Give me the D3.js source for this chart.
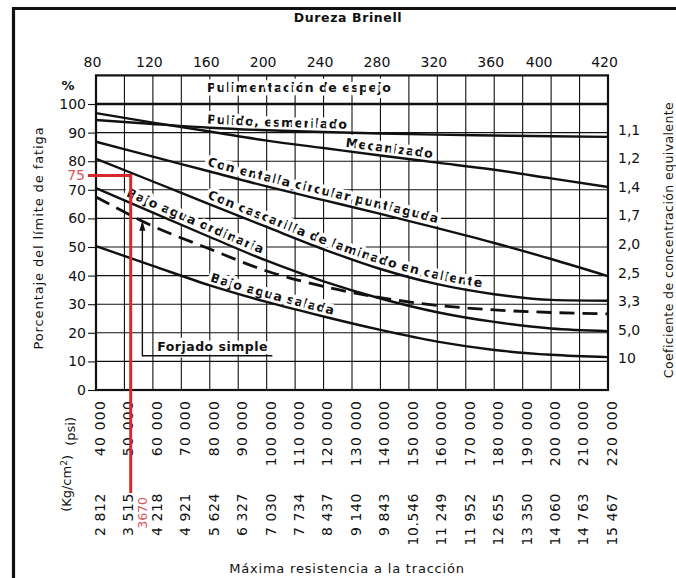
<!DOCTYPE html>
<html>
<head>
<meta charset="utf-8">
<script src="https://cdn.jsdelivr.net/npm/d3@7"></script>
<style>
  html, body { margin: 0; padding: 0; background: #fff; }
  svg { display: block; font-family: "DejaVu Sans", sans-serif; }
</style>
</head>
<body>
<svg id="chart" width="676" height="578"></svg>
<script>
// ---- Data -------------------------------------------------------------
// Tensile strength columns (thousand psi) with their printed labels
const psiTicks = d3.range(40, 221, 10);
const psiLabels = ["40 000", "50 000", "60 000", "70 000", "80 000", "90 000", "100 000",
  "110 000", "120 000", "130 000", "140 000", "150 000", "160 000", "170 000", "180 000",
  "190 000", "200 000", "210 000", "220 000"];
const kgLabels = ["2 812", "3 515", "4 218", "4 921", "5 624", "6 327", "7 030", "7 734",
  "8 437", "9 140", "9 843", "10.546", "11 249", "11 952", "12 655", "13 350", "14 060",
  "14 763", "15 467"];

// Brinell hardness scale and the tensile strength (thousand psi) it lines up with
const brinellTicks = [80, 120, 160, 200, 240, 280, 320, 360, 400, 420];
const brinellPsi = [40, 60, 80, 100, 120, 140, 160, 180, 197, 220];

// Fatigue-limit percentage and equivalent concentration factor
const pctTicks = [0, 10, 20, 30, 40, 50, 60, 70, 80, 90, 100];
const kfTicks = [90, 80, 70, 60, 50, 40, 30, 20, 10];
const kfLabels = ["1,1", "1,2", "1,4", "1,7", "2,0", "2,5", "3,3", "5,0", "10"];

// Curves, sampled every 20 000 psi (percent of fatigue limit)
const samplePsi = [40, 60, 80, 100, 120, 140, 160, 180, 200, 220];
const espejo        = [100, 100, 100, 100, 100, 100, 100, 100, 100, 100];
const pulido        = [94.4, 93.0, 91.7, 90.8, 90.2, 89.7, 89.3, 89.0, 88.7, 88.5];
const mecanizado    = [96.8, 93.5, 90.4, 87.2, 84.6, 82.0, 79.5, 77.0, 74.0, 71.0];
const entalla       = [86.8, 81.6, 76.4, 71.2, 66.4, 61.6, 56.6, 51.4, 45.8, 39.8];
const cascarilla    = [80.8, 72.9, 64.9, 57.0, 49.2, 42.3, 37.0, 33.5, 31.5, 31.2];
const aguaOrdinaria = [70.6, 62.0, 53.5, 45.2, 38.0, 32.0, 27.2, 23.8, 21.5, 20.6];
const forjado       = [67.5, 57.3, 49.3, 41.6, 36.2, 32.3, 29.6, 28.0, 27.1, 26.6];
const aguaSalada    = [50.3, 43.4, 36.6, 30.8, 25.7, 21.0, 16.9, 14.0, 12.3, 11.5];

// Worked example: 75 % read at 3670 kg/cm²
const examplePct = 75;
const exampleKg = 3670;
const kgToKpsi = 14.2233 / 1000;

// ---- Scales -----------------------------------------------------------
const svg = d3.select("#chart");
const x = d3.scaleLinear().domain([40, 220]).range([96, 608]);
const y = d3.scaleLinear().domain([0, 110]).range([390, 75.4]);
const xBrinell = d3.scaleLinear().domain(brinellTicks).range(brinellPsi.map(p => x(p)));

const ink = "#111";
const red = "#d8282e";

// ---- Outer frame ------------------------------------------------------
svg.append("line").attr("x1", 12).attr("x2", 676).attr("y1", 8.5).attr("y2", 8.5)
  .attr("stroke", ink).attr("stroke-width", 3.2);
svg.append("line").attr("x1", 13.5).attr("x2", 13.5).attr("y1", 7).attr("y2", 578)
  .attr("stroke", ink).attr("stroke-width", 3.2);

// ---- Grid -------------------------------------------------------------
const grid = svg.append("g").attr("stroke", ink).attr("stroke-width", 1.1);
grid.selectAll("line.v").data(psiTicks).join("line").attr("class", "v")
  .attr("x1", d => x(d)).attr("x2", d => x(d))
  .attr("y1", y(110)).attr("y2", y(0));
grid.selectAll("line.h").data(pctTicks.filter(d => d > 0)).join("line").attr("class", "h")
  .attr("x1", x(40)).attr("x2", x(220))
  .attr("y1", d => y(d)).attr("y2", d => y(d));

// ---- Axes -------------------------------------------------------------
const axisL = svg.append("g").attr("transform", `translate(${x(40)},0)`)
  .call(d3.axisLeft(y).tickValues(pctTicks).tickSize(8).tickPadding(2));
axisL.select(".domain").remove();
axisL.selectAll("line").attr("stroke", ink).attr("stroke-width", 1.1);
axisL.selectAll("text").attr("font-size", 14).attr("fill", ink)
  .attr("font-family", "DejaVu Sans");

svg.append("text").attr("x", 68).attr("y", y(106.5)).attr("dy", "0.35em")
  .attr("text-anchor", "middle").attr("font-size", 13).attr("font-weight", "bold")
  .attr("fill", ink).text("%");

const axisT = svg.append("g").attr("transform", `translate(0,${y(110)})`)
  .call(d3.axisTop(xBrinell).tickValues(brinellTicks).tickSize(0).tickPadding(8));
axisT.select(".domain").remove();
axisT.selectAll("text").attr("font-size", 14).attr("fill", ink).attr("dx", -4)
  .attr("font-family", "DejaVu Sans");

const axisR = svg.append("g").attr("transform", `translate(${x(220)},0)`)
  .call(d3.axisRight(y).tickValues(kfTicks).tickSize(0).tickPadding(10)
    .tickFormat((d, i) => kfLabels[i]));
axisR.select(".domain").remove();
axisR.selectAll("text").attr("font-size", 14).attr("fill", ink).attr("dy", "0.1em")
  .attr("font-family", "DejaVu Sans");

// Bottom: psi and kg/cm² rows, written upward
const axisB = svg.append("g").attr("font-size", 14).attr("fill", ink)
  .attr("letter-spacing", 1.2).attr("text-anchor", "end");
axisB.selectAll("text.psi").data(psiTicks).join("text").attr("class", "psi")
  .attr("transform", d => `translate(${x(d) + 4},400) rotate(-90)`)
  .attr("dy", "0.35em").text((d, i) => psiLabels[i]);
axisB.selectAll("text.kg").data(psiTicks).join("text").attr("class", "kg")
  .attr("transform", d => `translate(${x(d) + 4},493) rotate(-90)`)
  .attr("dy", "0.35em").attr("letter-spacing", 0.6).text((d, i) => kgLabels[i]);

svg.append("text").attr("transform", "translate(70,417) rotate(-90)")
  .attr("dy", "0.35em").attr("text-anchor", "end").attr("font-size", 13)
  .attr("fill", ink).text("(psi)");
const kgUnit = svg.append("text").attr("transform", "translate(66,455) rotate(-90)")
  .attr("dy", "0.35em").attr("text-anchor", "end").attr("font-size", 13).attr("fill", ink);
kgUnit.append("tspan").text("(Kg/cm");
kgUnit.append("tspan").attr("dy", "-0.45em").attr("font-size", 9).text("2");
kgUnit.append("tspan").attr("dy", "0.45em").text(")");

// Titles
svg.append("text").attr("x", 348).attr("y", 22).attr("text-anchor", "middle")
  .attr("font-size", 12.5).attr("font-weight", "bold").attr("letter-spacing", 0.6)
  .attr("fill", ink).text("Dureza Brinell");
svg.append("text").attr("x", 347).attr("y", 573).attr("text-anchor", "middle")
  .attr("font-size", 13).attr("letter-spacing", 0.8).attr("fill", ink)
  .text("Máxima resistencia a la tracción");
svg.append("text").attr("transform", "translate(38.5,238) rotate(-90)")
  .attr("dy", "0.35em").attr("text-anchor", "middle").attr("font-size", 13)
  .attr("letter-spacing", 0.9).attr("fill", ink).text("Porcentaje del límite de fatiga");
svg.append("text").attr("transform", "translate(669,240) rotate(-90)")
  .attr("dy", "0.35em").attr("text-anchor", "middle").attr("font-size", 12.5)
  .attr("letter-spacing", 0.4).attr("fill", ink).text("Coeficiente de concentración equivalente");

// ---- Curve labels (each word follows its curve) -----------------------
const curveOf = off => d3.line()
  .x((d, i) => x(samplePsi[i]))
  .y(d => y(d) - off)
  .curve(d3.curveMonotoneX);

const labels = [
  { id: "lab-espejo", text: "Pulimentación de espejo", values: espejo, startPsi: 79, off: 12 },
  { id: "lab-pulido", text: "Pulido, esmerilado", values: pulido, startPsi: 79, off: 4 },
  { id: "lab-mec", text: "Mecanizado", values: mecanizado, startPsi: 127.6, off: 4 },
  { id: "lab-entalla", text: "Con entalla circular puntiaguda", values: entalla, startPsi: 79, off: 5 },
  { id: "lab-casc", text: "Con cascarilla de laminado en caliente", values: cascarilla, startPsi: 79, off: 5 },
  { id: "lab-ord", text: "Bajo agua ordinaria", values: aguaOrdinaria, startPsi: 50.5, off: 5 },
  { id: "lab-sal", text: "Bajo agua salada", values: aguaSalada, startPsi: 80, off: 4 }
];

const defs = svg.append("defs");
const labelLayer = svg.append("g").attr("font-size", 12.5).attr("font-weight", "bold")
  .attr("fill", ink).attr("letter-spacing", 0.5)
  .attr("stroke", "#fff").attr("stroke-width", 7).attr("stroke-linejoin", "round")
  .style("paint-order", "stroke");

function lengthAtX(node, targetX) {
  let lo = 0, hi = node.getTotalLength();
  for (let k = 0; k < 40; k++) {
    const mid = (lo + hi) / 2;
    if (node.getPointAtLength(mid).x < targetX) lo = mid; else hi = mid;
  }
  return lo;
}

// advance width of a string in the label style
const ruler = labelLayer.append("text").attr("stroke", "none").attr("opacity", 0);
const advance = s => { ruler.text(s); return ruler.node().getComputedTextLength(); };

labels.forEach(l => {
  const p = defs.append("path").attr("id", l.id).attr("d", curveOf(l.off)(l.values));
  const start = lengthAtX(p.node(), x(l.startPsi));
  const words = l.text.split(" ");
  words.forEach((w, i) => {
    const before = i === 0 ? 0
      : advance(words.slice(0, i).join(" ") + " " + w) - advance(w);
    labelLayer.append("text").append("textPath")
      .attr("href", "#" + l.id).attr("startOffset", start + before).text(w);
  });
});
ruler.remove();

// "Forjado simple" with its leader to the dashed curve
const leaderPsi = 56.3, leaderBasePct = 12, leaderEndPsi = 102;
const forjadoAt = d3.scaleLinear().domain(samplePsi).range(forjado);
labelLayer.append("text").attr("x", x(61.5)).attr("y", y(13.6)).text("Forjado simple");

// ---- Curves -----------------------------------------------------------
const series = [
  { values: espejo, w: 2.6 },
  { values: pulido, w: 2.4 },
  { values: mecanizado, w: 2.4 },
  { values: entalla, w: 2.4 },
  { values: cascarilla, w: 2.4 },
  { values: aguaOrdinaria, w: 2.4 },
  { values: forjado, w: 2.8, dash: "15,8" },
  { values: aguaSalada, w: 2.4 }
];
svg.append("g").selectAll("path").data(series).join("path")
  .attr("d", d => curveOf(0)(d.values))
  .attr("fill", "none").attr("stroke", ink)
  .attr("stroke-width", d => d.w)
  .attr("stroke-dasharray", d => d.dash || null);

// Leader line and arrow
const lx = x(leaderPsi), tipY = y(forjadoAt(leaderPsi)), baseY = y(leaderBasePct);
svg.append("path")
  .attr("d", `M${lx},${tipY + 3}V${baseY}H${x(leaderEndPsi)}`)
  .attr("fill", "none").attr("stroke", ink).attr("stroke-width", 1.4);
svg.append("path")
  .attr("d", `M${lx},${tipY}l-3,10h6z`).attr("fill", ink);

// ---- Plot frame -------------------------------------------------------
svg.append("rect").attr("x", x(40)).attr("y", y(110))
  .attr("width", x(220) - x(40)).attr("height", y(0) - y(110))
  .attr("fill", "none").attr("stroke", ink).attr("stroke-width", 2.2);

// ---- Worked example in red --------------------------------------------
const exX = x(exampleKg * kgToKpsi);
svg.append("path")
  .attr("d", `M88,${y(examplePct)}H${exX}V493`)
  .attr("fill", "none").attr("stroke", red).attr("stroke-width", 3);
svg.append("text").attr("x", 85).attr("y", y(examplePct)).attr("dy", "0.35em")
  .attr("text-anchor", "end").attr("font-size", 14).attr("fill", "#d9545a")
  .text(examplePct);
svg.append("text").attr("transform", `translate(${exX + 12},497) rotate(-90)`)
  .attr("dy", "0.35em").attr("text-anchor", "end").attr("font-size", 12.5)
  .attr("fill", "#d9545a").text(exampleKg);
</script>
</body>
</html>
